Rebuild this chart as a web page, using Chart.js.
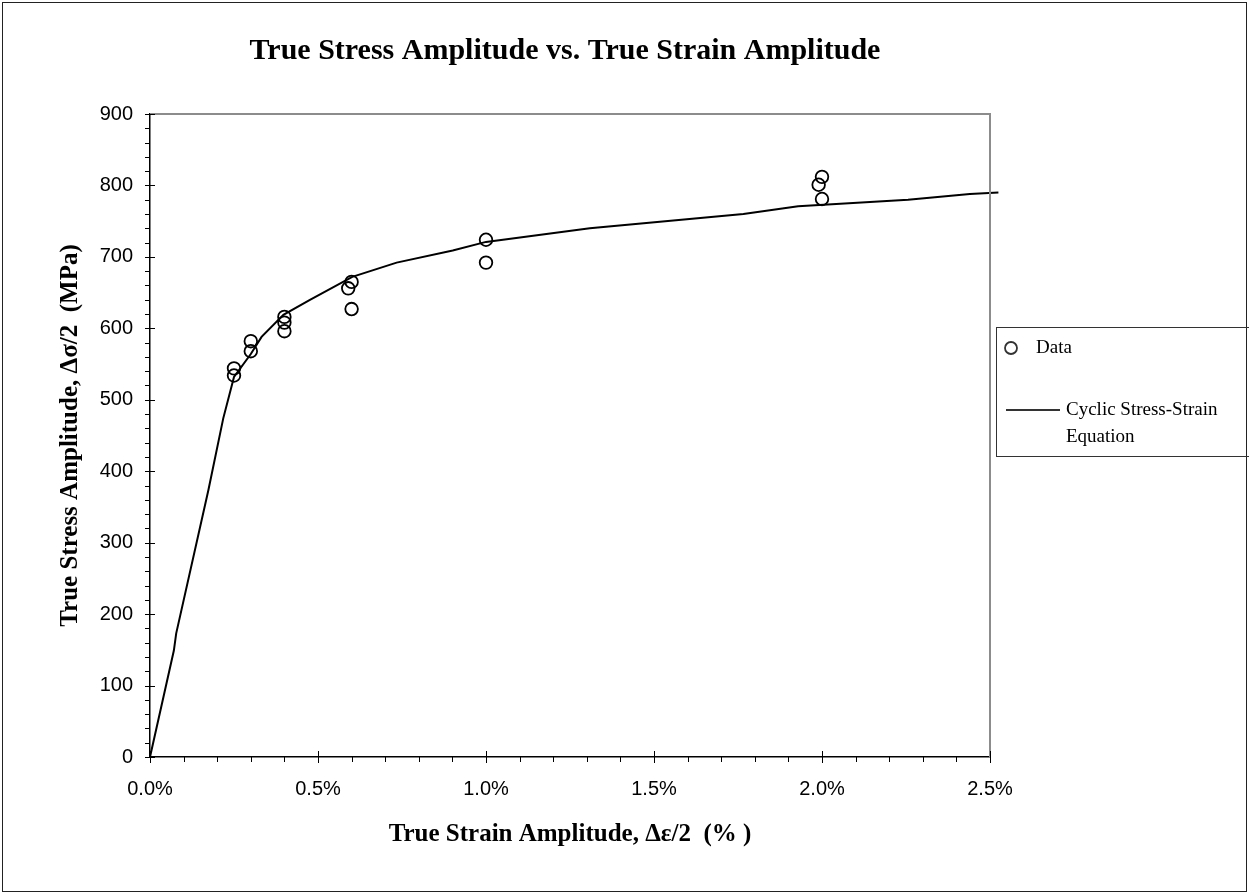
<!DOCTYPE html>
<html>
<head>
<meta charset="utf-8">
<script src="https://cdn.jsdelivr.net/npm/chart.js@4.4.1/dist/chart.umd.min.js"></script>
<style>
  body { margin: 0; background: #fff; }
  #wrap { width: 1249px; height: 893px; }
</style>
</head>
<body>
<div id="wrap"><canvas id="stressChart" width="1249" height="893"></canvas></div>
<script>
// measured data (strain in %, stress in MPa)
var dataStrain = [0.25, 0.25, 0.30, 0.30, 0.40, 0.40, 0.40, 0.59, 0.60, 0.60, 1.00, 1.00, 1.99, 2.00, 2.00];
var dataStress = [544, 534, 582, 568, 616, 608, 596, 656, 665, 627, 724, 692, 801, 812, 781];

// cyclic stress-strain equation curve
var curveStrain = [0, 0.071, 0.078, 0.174, 0.218, 0.25, 0.30, 0.332, 0.397, 0.476, 0.602, 0.734, 0.901, 1.000, 1.309, 1.766, 1.929, 2.256, 2.44, 2.525];
var curveStress = [0, 149, 173, 374, 474, 532, 564, 588, 619, 640, 672, 692, 709, 721, 740, 760, 771, 780, 788, 790];

var xTicks = [0, 0.5, 1.0, 1.5, 2.0, 2.5];
var yTicks = [0, 100, 200, 300, 400, 500, 600, 700, 800, 900];

var chartTitle = "True Stress Amplitude vs. True Strain Amplitude";
var xTitle = "True Strain Amplitude, \u0394\u03b5/2  (% )";
var yTitle = "True Stress Amplitude, \u0394\u03c3/2  (MPa)";
var legendData = "Data";
var legendCurve = ["Cyclic Stress-Strain", "Equation"];

function toPoints(xs, ys) {
    return xs.map(function(x, i) { return { x: x, y: ys[i] }; });
}

// title, ticks, plot frame and legend
var decorPlugin = {
    id: "decor",
    afterDraw: function(chart) {
        var ctx = chart.ctx;
        var area = chart.chartArea;
        var xs = chart.scales.x, ys = chart.scales.y;
        ctx.save();

        // outer border
        ctx.strokeStyle = "#222";
        ctx.lineWidth = 1;
        ctx.strokeRect(2.5, 2.5, 1244, 889);

        // plot area top / right (gray)
        ctx.strokeStyle = "#8c8c8c";
        ctx.lineWidth = 2;
        ctx.beginPath();
        ctx.moveTo(area.left, area.top);
        ctx.lineTo(area.right, area.top);
        ctx.lineTo(area.right, area.bottom);
        ctx.stroke();

        // tick marks
        ctx.strokeStyle = "#000";
        ctx.lineWidth = 1;
        ctx.beginPath();
        for (var v = 0; v <= 900; v += 20) {
            var py = Math.round(ys.getPixelForValue(v)) + 0.5;
            if (v % 100 === 0) {
                ctx.moveTo(area.left - 5, py); ctx.lineTo(area.left + 5, py);
            } else {
                ctx.moveTo(area.left - 5, py); ctx.lineTo(area.left, py);
            }
        }
        for (var k = 0; k <= 25; k++) {
            var px = Math.round(xs.getPixelForValue(k / 10)) + 0.5;
            if (k % 5 === 0) {
                ctx.moveTo(px, area.bottom - 6); ctx.lineTo(px, area.bottom + 6);
            } else {
                ctx.moveTo(px, area.bottom); ctx.lineTo(px, area.bottom + 5);
            }
        }
        ctx.stroke();

        // chart title
        ctx.fillStyle = "#000";
        ctx.font = "bold 30px 'Liberation Serif', 'Times New Roman', serif";
        ctx.textAlign = "center";
        ctx.textBaseline = "alphabetic";
        ctx.fillText(chartTitle, 565, 59);

        // legend
        ctx.strokeStyle = "#333";
        ctx.lineWidth = 1;
        ctx.strokeRect(996.5, 327.5, 270, 129);
        ctx.lineWidth = 1.8;
        ctx.beginPath();
        ctx.arc(1011, 348, 6, 0, Math.PI * 2);
        ctx.stroke();
        ctx.lineWidth = 2;
        ctx.beginPath();
        ctx.moveTo(1006, 410);
        ctx.lineTo(1060, 410);
        ctx.stroke();
        ctx.font = "19px 'Liberation Serif', 'Times New Roman', serif";
        ctx.textAlign = "left";
        ctx.textBaseline = "middle";
        ctx.fillText(legendData, 1036, 348);
        ctx.fillText(legendCurve[0], 1066, 410);
        ctx.fillText(legendCurve[1], 1066, 437);

        ctx.restore();
    }
};

var ctx = document.getElementById("stressChart").getContext("2d");
var stressChart = new Chart(ctx, {
    type: "scatter",
    data: {
        datasets: [
            {
                label: legendData,
                data: toPoints(dataStrain, dataStress),
                pointStyle: "circle",
                pointRadius: 6.3,
                pointBorderWidth: 1.8,
                borderColor: "#000",
                backgroundColor: "rgba(0,0,0,0)",
                order: 1
            },
            {
                label: legendCurve.join(" "),
                data: toPoints(curveStrain, curveStress),
                showLine: true,
                pointRadius: 0,
                borderColor: "#000",
                borderWidth: 2,
                tension: 0,
                clip: { left: 2, top: 2, right: 10, bottom: 2 },
                order: 2
            }
        ]
    },
    options: {
        responsive: false,
        animation: false,
        events: [],
        layout: { padding: { left: 0, top: 114, right: 259, bottom: 0 } },
        plugins: {
            legend: { display: false },
            tooltip: { enabled: false },
            title: { display: false }
        },
        scales: {
            x: {
                type: "linear",
                min: 0,
                max: 2.5,
                afterFit: function(scale) { scale.height = 136; },
                afterBuildTicks: function(scale) {
                    scale.ticks = xTicks.map(function(v) { return { value: v }; });
                },
                ticks: {
                    padding: 20,
                    color: "#000",
                    font: { family: "'Liberation Sans', Arial, sans-serif", size: 20 },
                    maxRotation: 0,
                    callback: function(v) { return v.toFixed(1) + "%"; }
                },
                grid: { display: true, drawOnChartArea: false, drawTicks: false },
                border: { display: true, color: "#000", width: 1.5 },
                title: {
                    display: true,
                    text: xTitle,
                    color: "#000",
                    font: { family: "'Liberation Serif', 'Times New Roman', serif", size: 25, weight: "bold" },
                    padding: { top: 0, bottom: 43 }
                }
            },
            y: {
                type: "linear",
                min: 0,
                max: 900,
                afterFit: function(scale) { scale.width = 150; },
                afterBuildTicks: function(scale) {
                    scale.ticks = yTicks.map(function(v) { return { value: v }; });
                },
                ticks: {
                    padding: 17,
                    color: "#000",
                    font: { family: "'Liberation Sans', Arial, sans-serif", size: 20 }
                },
                grid: { display: true, drawOnChartArea: false, drawTicks: false },
                border: { display: true, color: "#000", width: 1.5 },
                title: {
                    display: true,
                    text: yTitle,
                    color: "#000",
                    font: { family: "'Liberation Serif', 'Times New Roman', serif", size: 25, weight: "bold" },
                    padding: { top: 56, bottom: 0 }
                }
            }
        }
    },
    plugins: [decorPlugin]
});
</script>
</body>
</html>
